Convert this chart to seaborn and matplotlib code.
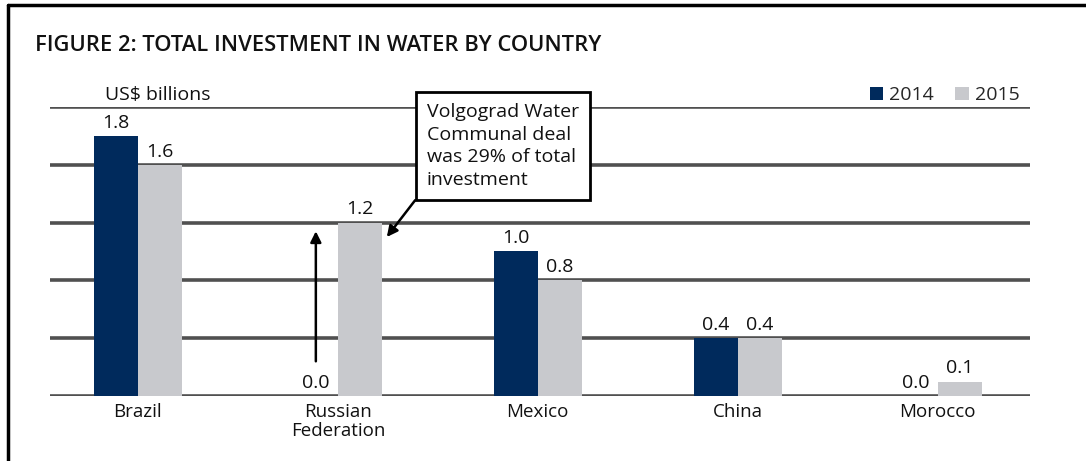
import matplotlib
matplotlib.use("Agg")
import matplotlib.pyplot as plt
import seaborn as sns
import pandas as pd
from matplotlib.lines import Line2D
from matplotlib.patches import Patch

countries = ["Brazil", "Russian\nFederation", "Mexico", "China", "Morocco"]
values_2014 = [1.8, 0.0, 1.0, 0.4, 0.0]
values_2015 = [1.6, 1.2, 0.8, 0.4, 0.1]
years = ["2014", "2015"]
yticks = [0.0, 0.4, 0.8, 1.2, 1.6, 2.0]

navy = "#002a5c"
grey = "#c8c9cd"

df = pd.DataFrame({
    "country": countries * 2,
    "value": values_2014 + values_2015,
    "year": [years[0]] * len(countries) + [years[1]] * len(countries),
})

sns.set_theme(style="white")
plt.rcParams["font.family"] = ["Open Sans", "DejaVu Sans"]

fig = plt.figure(figsize=(10.86, 4.61), dpi=100)
ax = fig.add_axes([0.046, 0.141, 0.902, 0.627])

sns.barplot(data=df, x="country", y="value", hue="year", hue_order=years,
            palette=[navy, grey], width=0.44, gap=0, saturation=1,
            ax=ax, legend=False, edgecolor="none", linewidth=0)

for cont in ax.containers:
    ax.bar_label(cont, fmt="%.1f", padding=3, fontsize=14, color="#111111")

ax.set_xlim(-0.44, 4.46)
ax.set_ylim(0, 2.0)
ax.set_yticks(yticks)
ax.set_yticklabels([])
ax.tick_params(axis="y", length=0)
ax.tick_params(axis="x", length=0, labelsize=13.5, pad=5, colors="#111111")
for lab in ax.get_xticklabels():
    lab.set_linespacing(1.1)
ax.grid(axis="y", color="#505050", linewidth=2.6)
ax.set_axisbelow(True)
for s in ax.spines.values():
    s.set_visible(False)
ax.set_xlabel("")
ax.set_ylabel("")

# Title and unit label
fig.text(0.032, 0.902, "FIGURE 2: TOTAL INVESTMENT IN WATER BY COUNTRY",
         fontsize=15.8, fontweight="semibold", color="#111111", va="center")
fig.text(0.097, 0.793, "US$ billions", fontsize=14, color="#111111", va="center")

# Legend
handles = [Patch(facecolor=navy, edgecolor="none"), Patch(facecolor=grey, edgecolor="none")]
fig.legend(handles, years, loc="center right", bbox_to_anchor=(0.946, 0.793),
           ncol=2, frameon=False, fontsize=14, handlelength=0.7, handleheight=0.7,
           handletextpad=0.3, columnspacing=1.1, borderaxespad=0)

# Annotation box with arrow
ax.annotate("", xy=(1.245, 1.10), xytext=(1.387, 1.355),
            arrowprops=dict(arrowstyle="-|>", color="black", lw=1.8,
                            mutation_scale=16, shrinkA=0, shrinkB=0),
            annotation_clip=False)
ax.text(1.445, 1.43, "Volgograd Water\nCommunal deal\nwas 29% of total\ninvestment",
        fontsize=14, color="#111111", ha="left", va="bottom", linespacing=1.35,
        bbox=dict(boxstyle="square,pad=0.55", facecolor="white", edgecolor="black", lw=2),
        clip_on=False, zorder=5)

# Vertical arrow at Russia 2014
ax.annotate("", xy=(0.89, 1.14), xytext=(0.89, 0.24),
            arrowprops=dict(arrowstyle="-|>", color="black", lw=1.8,
                            mutation_scale=16, shrinkA=0, shrinkB=0))

# Frame lines
fig.add_artist(Line2D([0.0075, 1.0], [0.99, 0.99], transform=fig.transFigure, color="black", lw=2.5))
fig.add_artist(Line2D([0.0075, 0.0075], [0.0, 0.99], transform=fig.transFigure, color="black", lw=2.5))

fig.savefig("out.png", dpi=100, facecolor="white")
